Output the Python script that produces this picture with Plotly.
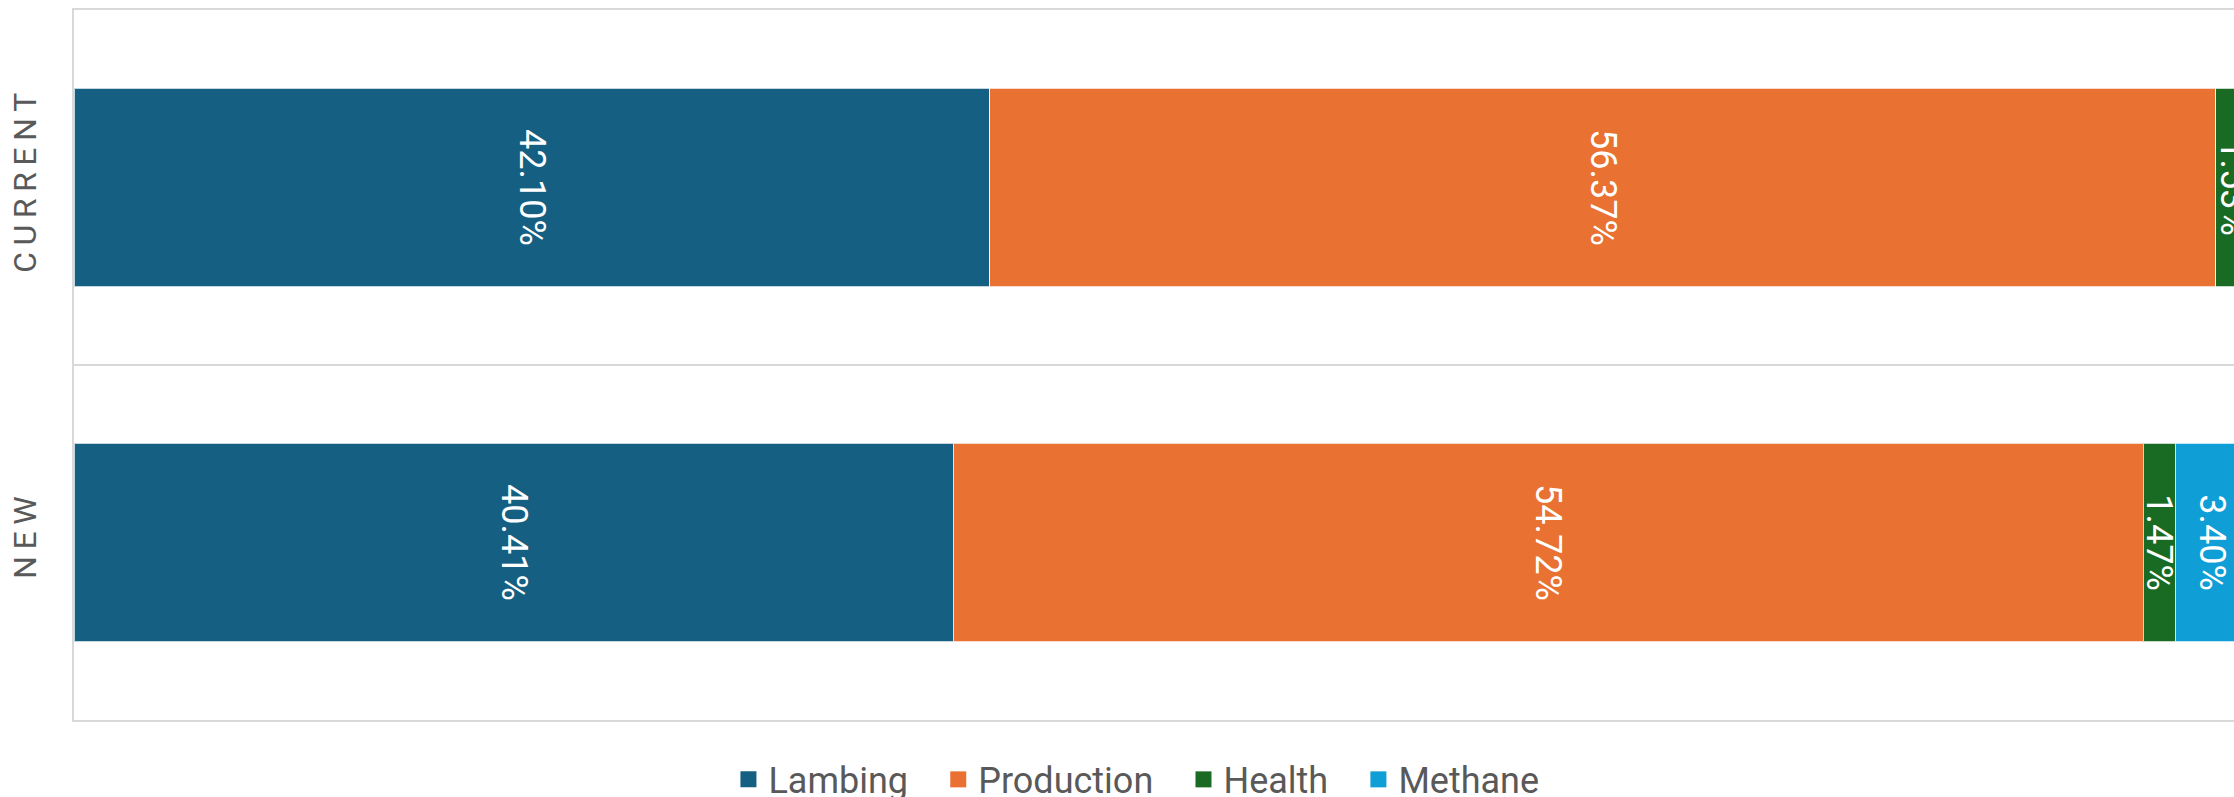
import plotly.graph_objects as go

# Share of total (%) by category for each scenario
scenarios = ["CURRENT", "NEW"]
lambing = [42.10, 40.41]
production = [56.37, 54.72]
health = [1.53, 1.47]
methane = [0.0, 3.40]

series = [
    ("Lambing", lambing, "#156082"),
    ("Production", production, "#E97132"),
    ("Health", health, "#196B24"),
    ("Methane", methane, "#0F9ED5"),
]

# visually spaced axis labels
spaced = ["\u2009".join(list(s)) for s in scenarios]

FONT = "Roboto, Arial, sans-serif"
GREY = "#595959"

fig = go.Figure()
for name, vals, color in series:
    labels = [f"{v:.2f}%" if v > 0 else "" for v in vals]
    fig.add_trace(go.Bar(
        name=name,
        y=spaced,
        x=vals,
        orientation="h",
        marker=dict(color=color, line=dict(color="rgba(255,255,255,0.75)", width=1)),
        text=labels,
        textposition="inside",
        insidetextanchor="middle",
        textangle=90,
        insidetextfont=dict(family=FONT, size=36, color="white"),
        hoverinfo="skip",
        showlegend=False,
    ))

# legend entries drawn with larger square swatches
for i, (name, vals, color) in enumerate(series):
    pad = "\u00a0\u00a0\u2009" if i < len(series) - 1 else ""
    fig.add_trace(go.Scatter(
        name=name + pad,
        x=[None],
        y=[None],
        mode="markers",
        marker=dict(symbol="square", size=16, color=color),
        showlegend=True,
        hoverinfo="skip",
    ))

fig.update_layout(
    width=2234,
    height=797,
    barmode="stack",
    bargap=0.44,
    plot_bgcolor="white",
    paper_bgcolor="white",
    margin=dict(l=74, r=0, t=10, b=77, autoexpand=False),
    uniformtext=dict(mode="show", minsize=36),
    showlegend=True,
    legend=dict(
        orientation="h",
        xref="container",
        x=0.5087,
        xanchor="center",
        yref="container",
        y=0.022,
        yanchor="middle",
        font=dict(family=FONT, size=36, color=GREY),
        itemwidth=30,
        traceorder="normal",
    ),
    xaxis=dict(
        range=[0, 99.3],
        showticklabels=False,
        showgrid=False,
        zeroline=False,
        showline=True,
        mirror=True,
        linecolor="#D9D9D9",
        linewidth=2,
        fixedrange=True,
        automargin=False,
    ),
    yaxis=dict(
        autorange="reversed",
        tickson="boundaries",
        showgrid=True,
        gridcolor="#D9D9D9",
        gridwidth=2,
        showline=True,
        linecolor="#D9D9D9",
        linewidth=2,
        ticks="",
        tickangle=-90,
        ticklabelstandoff=23,
        tickfont=dict(family=FONT, size=32, color=GREY, weight=400),
        fixedrange=True,
        automargin=False,
    ),
)

fig.write_html("out.html")
